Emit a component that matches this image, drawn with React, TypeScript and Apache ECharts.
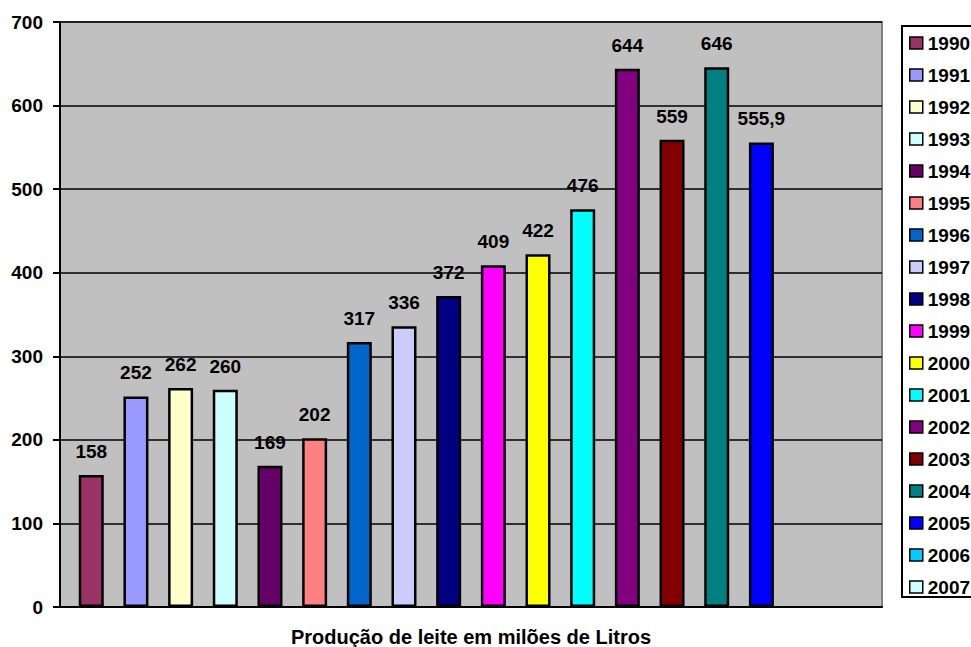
import React, { useEffect, useRef } from "react";
import * as echarts from "echarts";

const years = ["1990","1991","1992","1993","1994","1995","1996","1997","1998","1999","2000","2001","2002","2003","2004","2005","2006","2007"];
const values: (number | null)[] = [158, 252, 262, 260, 169, 202, 317, 336, 372, 409, 422, 476, 644, 559, 646, 555.9, null, null];
const colors = ["#993366","#9999FF","#FFFFCC","#CCFFFF","#660066","#FF8080","#0066CC","#CCCCFF","#000080","#FF00FF","#FFFF00","#00FFFF","#800080","#800000","#008080","#0000FF","#00CCFF","#CCFFFF"];
const yTicks = { min: 0, max: 700, interval: 100 };
const xTitle = "Produção de leite em milões de Litros";

const FONT = "'Liberation Sans', Arial, sans-serif";

export default function App() {
  const ref = useRef<HTMLDivElement>(null);
  useEffect(() => {
    if (!ref.current) return;
    const chart = echarts.init(ref.current, null, { renderer: "svg" });
    const series = years.map((y, i) => ({
      name: y,
      type: "bar",
      data: [values[i] === null ? "-" : values[i]],
      barWidth: 25,
      barGap: "78.7%",
      itemStyle: { color: colors[i], borderColor: "#000000", borderWidth: 2.5 },
      label: {
        show: true,
        position: "top",
        distance: 14,
        fontFamily: FONT,
        fontWeight: "bold",
        fontSize: 19,
        color: "#000",
        formatter: (p: any) => String(p.value).replace(".", ","),
      },
    }));
    chart.setOption({
      animation: false,
      backgroundColor: "#fff",
      textStyle: { fontFamily: FONT },
      grid: {
        left: 60, top: 22, right: 89, bottom: 40,
        outerBoundsMode: "none",
        containLabel: false,
        show: true, backgroundColor: "#C0C0C0", borderColor: "#808080", borderWidth: 2,
      },
      legend: {
        orient: "vertical",
        left: 902,
        top: 26,
        padding: [7, 12, 0, 7],
        itemWidth: 13,
        itemHeight: 12,
        itemGap: 12,
        borderColor: "#000",
        borderWidth: 2,
        backgroundColor: "#fff",
        icon: "rect",
        itemStyle: { borderColor: "#000", borderWidth: 1.5 },
        textStyle: { fontFamily: FONT, fontWeight: "bold", fontSize: 19, color: "#000", lineHeight: 20 },
        data: years,
      },
      xAxis: {
        type: "category",
        data: [""],
        axisLine: { show: true, lineStyle: { color: "#000", width: 2 } },
        axisTick: { show: false },
        axisLabel: { show: false },
        name: xTitle,
        nameLocation: "middle",
        nameGap: 20,
        nameTextStyle: { fontFamily: FONT, fontWeight: "bold", fontSize: 20, color: "#000" },
      },
      yAxis: {
        type: "value",
        min: yTicks.min,
        max: yTicks.max,
        interval: yTicks.interval,
        axisLine: { show: true, lineStyle: { color: "#000", width: 2 } },
        axisTick: { show: true, length: 7, lineStyle: { color: "#000", width: 2 } },
        axisLabel: { margin: 17, fontFamily: FONT, fontWeight: "bold", fontSize: 19, color: "#000" },
        splitLine: { show: true, lineStyle: { color: "#000", width: 1.5 } },
      },
      series,
    });
    return () => chart.dispose();
  }, []);
  return <div ref={ref} style={{ position: "fixed", left: 0, top: 0, width: 971, height: 647 }} />;
}
